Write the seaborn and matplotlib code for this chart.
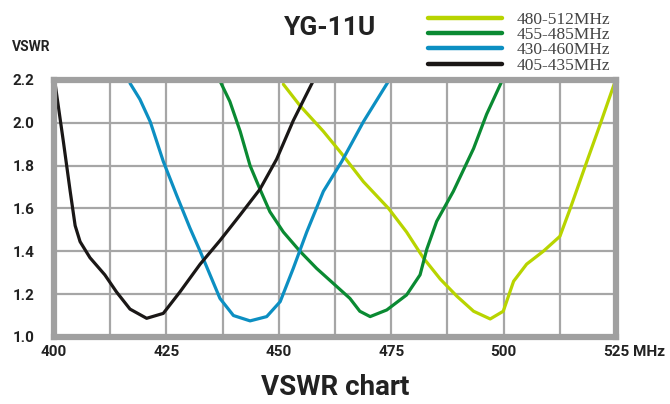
import numpy as np
import matplotlib
matplotlib.use("Agg")
import matplotlib.pyplot as plt
import seaborn as sns
import pandas as pd

# frequency (MHz) / VSWR samples
black_f = [400.2, 402.1, 403.6, 404.7, 405.8, 408.0, 411.3, 413.9, 416.9, 420.6, 424.3, 428.0, 432.5, 436.9,
           441.4, 445.8, 449.5, 453.2, 457.5]
black_v = [2.19, 1.91, 1.68, 1.52, 1.445, 1.37, 1.29, 1.21, 1.13, 1.087, 1.11, 1.21, 1.34, 1.45,
           1.57, 1.69, 1.83, 2.01, 2.19]

blue_f = [416.9, 419.1, 421.4, 424.3, 427.3, 430.2, 432.5, 434.7, 436.9, 439.9, 443.6, 447.3, 450.3, 453.2,
          456.2, 459.9, 464.0, 468.8, 474.4]
blue_v = [2.185, 2.11, 2.005, 1.82, 1.66, 1.51, 1.40, 1.29, 1.18, 1.10, 1.075, 1.095, 1.165, 1.32,
          1.49, 1.68, 1.82, 2.005, 2.195]

green_f = [436.8, 439.1, 441.4, 443.6, 445.8, 448.0, 451.0, 454.7, 458.4, 462.1, 465.8, 468.0, 470.3, 474.0,
           478.4, 481.4, 482.9, 485.1, 488.8, 493.3, 496.2, 499.6]
green_v = [2.20, 2.10, 1.96, 1.80, 1.69, 1.585, 1.49, 1.40, 1.32, 1.25, 1.18, 1.12, 1.095, 1.126,
           1.196, 1.29, 1.41, 1.54, 1.68, 1.88, 2.04, 2.195]

lime_f = [451.0, 454.7, 459.9, 464.0, 468.8, 474.4, 478.4, 482.1, 485.9, 489.6, 493.3, 497.0, 499.9, 502.2,
          505.1, 508.8, 512.5, 514.8, 518.5, 521.4, 524.8]
lime_v = [2.18, 2.08, 1.96, 1.855, 1.725, 1.60, 1.49, 1.37, 1.27, 1.19, 1.12, 1.084, 1.12, 1.26,
          1.34, 1.40, 1.47, 1.60, 1.82, 1.99, 2.195]

series_names = ["480-512MHz", "455-485MHz", "430-460MHz", "405-435MHz"]
series_colors = ["#b8d400", "#0a8a32", "#0c8fc2", "#1a1716"]

x_ticks = [400, 425, 450, 475, 500, 525]
y_ticks = [1.0, 1.2, 1.4, 1.6, 1.8, 2.0, 2.2]

sns.set_theme(style="white")
plt.rcParams['font.family'] = ['Roboto', 'DejaVu Sans']

frames = []
for name, f, v in zip(series_names, [lime_f, green_f, blue_f, black_f], [lime_v, green_v, blue_v, black_v]):
    frames.append(pd.DataFrame({"freq": f, "vswr": v, "band": name}))
df = pd.concat(frames, ignore_index=True)

fig = plt.figure(figsize=(6.7, 4.04), dpi=100)
ax = fig.add_axes([0.0806, 0.166, 0.839, 0.636])

sns.lineplot(data=df, x="freq", y="vswr", hue="band", hue_order=series_names,
             palette=series_colors, sort=False, estimator=None, linewidth=2.3, ax=ax, legend=False)
for ln in ax.lines:
    ln.set_solid_joinstyle("round")
    ln.set_solid_capstyle("round")

ax.set_xlim(400, 525)
ax.set_ylim(1.0, 2.2)
ax.set_xticks(np.arange(400, 525.1, 12.5), minor=True)
ax.set_xticks(x_ticks)
ax.set_yticks(y_ticks)
ax.set_xticklabels([str(t) for t in x_ticks], fontsize=11, fontweight="bold", color="#222222")
ax.set_yticklabels([f"{t:.1f}" for t in y_ticks], fontsize=11, fontweight="bold", color="#222222")
ax.tick_params(axis="x", which="both", length=0, pad=6)
ax.tick_params(axis="y", length=0, pad=14)
ax.grid(True, which="both", axis="x", color="#a6a6a6", linewidth=1.6)
ax.grid(True, which="major", axis="y", color="#a6a6a6", linewidth=1.6)
ax.set_axisbelow(True)
for sp in ax.spines.values():
    sp.set_visible(True)
    sp.set_color("#a0a0a0")
    sp.set_linewidth(4.5)
ax.set_xlabel("")
ax.set_ylabel("")

# unit after the last x tick label
ax.text(528.8, 0.963, "MHz", fontsize=11, fontweight="bold", color="#222222", ha="left", va="top")

fig.text(0.018, 0.883, "VSWR", fontsize=10, fontweight="bold", color="#222222", ha="left", va="center")
fig.text(0.493, 0.93, "YG-11U", fontsize=19, fontweight="bold", color="#222222", ha="center", va="center")
fig.text(0.5, 0.04, "VSWR chart", fontsize=20, fontweight="bold", color="#222222", ha="center", va="center")

# legend drawn with figure-level handles
handles = [plt.Line2D([], [], color=c, linewidth=3.2) for c in series_colors]
leg = fig.legend(handles, series_names, loc="upper left", bbox_to_anchor=(0.615, 1.01),
                 frameon=False, handlelength=4.3, handletextpad=0.85, labelspacing=-0.05,
                 prop={"family": "Liberation Serif", "size": 12.5})
for t in leg.get_texts():
    t.set_color("#444444")

fig.savefig("out.png", dpi=100)
